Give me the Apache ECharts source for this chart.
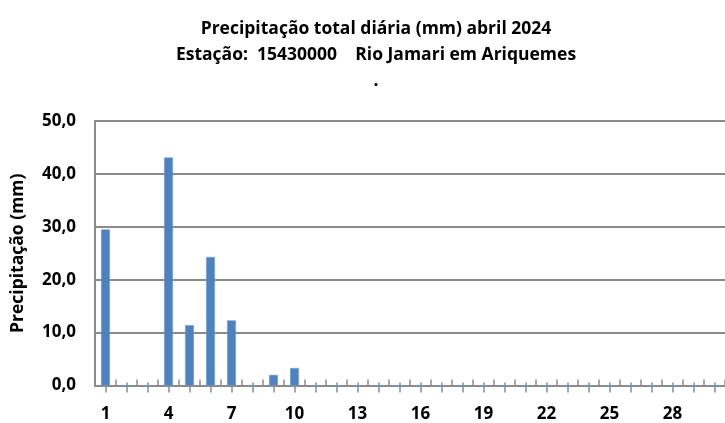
<!DOCTYPE html>
<html>
<head>
<meta charset="utf-8">
<script src="https://cdn.jsdelivr.net/npm/echarts@6/dist/echarts.min.js"></script>
<style>
html,body{margin:0;padding:0;background:#fff;}
#chart{width:725px;height:423px;}
</style>
</head>
<body>
<div id="chart"></div>
<script>
var titleLines = ['Precipitação total diária (mm) abril 2024', 'Estação:  15430000    Rio Jamari em Ariquemes', '.'];
var yAxisName = 'Precipitação (mm)';
var days = [];
for (var d = 1; d <= 30; d++) days.push(String(d));
var precip = [29.5, 0, 0, 43.1, 11.4, 24.3, 12.3, 0, 2.0, 3.3,
              0, 0, 0, 0, 0, 0, 0, 0, 0, 0,
              0, 0, 0, 0, 0, 0, 0, 0, 0, 0];
var yMin = 0, yMax = 50, yStep = 10;

var FONT = 'Open Sans';
var GRAY = '#8a8a8a';
var chart = echarts.init(document.getElementById('chart'), null, {renderer: 'canvas'});
var baseTick = {show: true, interval: 0, lineStyle: {color: GRAY, width: 1.5}};
chart.setOption({
  animation: false,
  backgroundColor: '#ffffff',
  title: {
    text: titleLines.join('\n'),
    left: 371, top: 11, textAlign: 'center',
    textStyle: {fontFamily: FONT, fontWeight: 'bold', fontSize: 17.5, lineHeight: 26, color: '#000'}
  },
  grid: {left: 95, right: -1, top: 121, bottom: 37.5, containLabel: false},
  xAxis: [
    {
      type: 'category', data: days, position: 'bottom',
      axisLine: {show: true, lineStyle: {color: GRAY, width: 2}},
      axisTick: Object.assign({}, baseTick, {alignWithLabel: true, inside: false, length: 7}),
      axisLabel: {interval: 2, margin: 20, fontFamily: FONT, fontWeight: 'bold', fontSize: 17, color: '#000'},
      splitLine: {show: false}
    },
    {
      type: 'category', data: days, position: 'bottom',
      axisLine: {show: false},
      axisTick: Object.assign({}, baseTick, {alignWithLabel: true, inside: true, length: 3}),
      axisLabel: {show: false}, splitLine: {show: false}
    },
    {
      type: 'category', data: days, position: 'bottom',
      axisLine: {show: false},
      axisTick: Object.assign({}, baseTick, {alignWithLabel: false, inside: true, length: 6}),
      axisLabel: {show: false}, splitLine: {show: false}
    }
  ],
  yAxis: {
    type: 'value', min: yMin, max: yMax, interval: yStep,
    name: yAxisName, nameLocation: 'middle', nameRotate: 90, nameGap: 68,
    nameTextStyle: {fontFamily: FONT, fontWeight: 'bold', fontSize: 17.5, color: '#000'},
    axisLine: {show: true, lineStyle: {color: GRAY, width: 2}},
    axisTick: {show: false},
    axisLabel: {margin: 19, fontFamily: FONT, fontWeight: 'bold', fontSize: 17, color: '#000',
      formatter: function (v) { return v.toFixed(1).replace('.', ','); }},
    splitLine: {show: true, lineStyle: {color: GRAY, width: 2}}
  },
  series: [{
    type: 'bar', xAxisIndex: 0, data: precip, barWidth: '42%',
    itemStyle: {color: '#4f81bd', borderColor: '#6f98cc', borderWidth: 0.5}
  }]
});
</script>
</body>
</html>
